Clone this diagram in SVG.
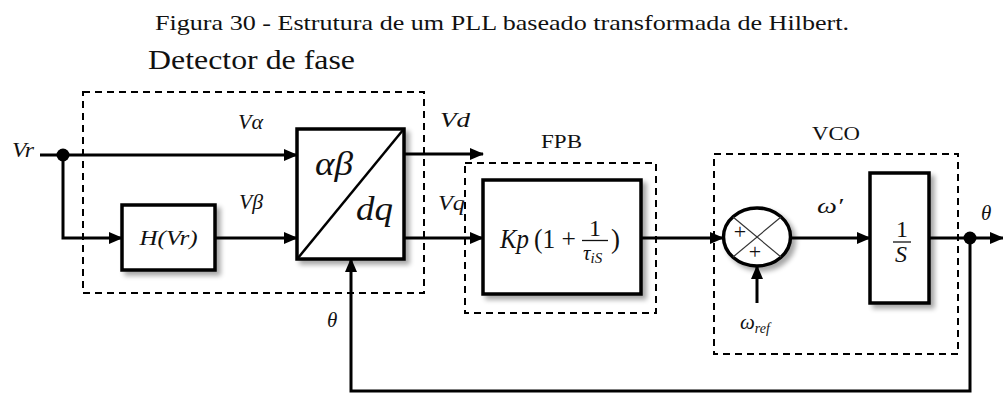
<svg xmlns="http://www.w3.org/2000/svg" width="1003" height="394" viewBox="0 0 1003 394">
<style>
text{font-family:'Liberation Serif','Times New Roman',serif;fill:#111}
.i{font-style:italic}
.box{fill:#fff;stroke:#000;stroke-width:3.5}
.dash{fill:none;stroke:#000;stroke-width:2;stroke-dasharray:7 5}
.ln{fill:none;stroke:#000;stroke-width:3}
.thin{fill:none;stroke:#333;stroke-width:1.2}
</style>
<defs>
<marker id="arr" markerUnits="userSpaceOnUse" markerWidth="14" markerHeight="12" refX="13" refY="6" orient="auto">
<path d="M0,0 L14,6 L0,12 Z" fill="#000"/>
</marker>
<filter id="sh" x="-10%" y="-10%" width="130%" height="130%">
<feGaussianBlur in="SourceAlpha" stdDeviation="2.5"/>
<feOffset dx="4" dy="4" result="b"/>
<feComponentTransfer><feFuncA type="linear" slope="0.35"/></feComponentTransfer>
<feMerge><feMergeNode/><feMergeNode in="SourceGraphic"/></feMerge>
</filter>
</defs>
<rect width="1003" height="394" fill="#fff"/>
<text font-family="Liberation Serif, serif" x="155" y="30" font-size="21" textLength="694" lengthAdjust="spacingAndGlyphs">Figura 30 - Estrutura de um PLL baseado transformada de Hilbert.</text>

<g id="detector">
<rect class="dash" x="83" y="92" width="341" height="201"/>
<text x="148" y="69" font-size="27" textLength="207" lengthAdjust="spacingAndGlyphs">Detector de fase</text>
</g>
<g id="fpb-group">
<rect class="dash" x="465" y="163" width="191" height="150"/>
<text x="541" y="148" font-size="19" textLength="41" lengthAdjust="spacingAndGlyphs">FPB</text>
</g>
<g id="vco-group">
<rect class="dash" x="714" y="154" width="244" height="200"/>
<text x="812" y="140" font-size="19" textLength="48" lengthAdjust="spacingAndGlyphs">VCO</text>
</g>

<g id="connectors">
<line class="ln" x1="40" y1="155" x2="297" y2="155" marker-end="url(#arr)"/>
<polyline class="ln" points="63,155 63,238 122,238" marker-end="url(#arr)"/>
<line class="ln" x1="215" y1="238" x2="297" y2="238" marker-end="url(#arr)"/>
<line class="ln" x1="404" y1="154" x2="483" y2="154" marker-end="url(#arr)"/>
<line class="ln" x1="404" y1="238" x2="483" y2="238" marker-end="url(#arr)"/>
<line class="ln" x1="641" y1="238" x2="723" y2="238" marker-end="url(#arr)"/>
<line class="ln" x1="791" y1="238" x2="870" y2="238" marker-end="url(#arr)"/>
<line class="ln" x1="757" y1="303" x2="757" y2="266" marker-end="url(#arr)"/>
<line class="ln" x1="929" y1="238" x2="1003" y2="238" marker-end="url(#arr)"/>
<polyline class="ln" points="970,238 970,391 351,391 351,259" marker-end="url(#arr)"/>
<circle cx="63" cy="155" r="6.5" fill="#000"/>
<circle cx="970" cy="238" r="6.5" fill="#000"/>
</g>

<g id="labels">
<text class="i" x="12" y="157" font-size="21" textLength="22" lengthAdjust="spacingAndGlyphs">Vr</text>
<text class="i" x="238" y="129" font-size="20" textLength="25" lengthAdjust="spacingAndGlyphs">Vα</text>
<text class="i" x="239" y="209" font-size="20" textLength="24" lengthAdjust="spacingAndGlyphs">Vβ</text>
<text class="i" x="440" y="127" font-size="20" textLength="30" lengthAdjust="spacingAndGlyphs">Vd</text>
<text class="i" x="438" y="210" font-size="20" textLength="27" lengthAdjust="spacingAndGlyphs">Vq</text>
<text class="i" x="327" y="327" font-size="21">θ</text>
<text class="i" x="981" y="220" font-size="21">θ</text>
<text class="i" x="817" y="213" font-size="21" textLength="26" lengthAdjust="spacingAndGlyphs">ω′</text>
<text class="i" x="740" y="329" font-size="21">ω<tspan font-size="14" dy="4">ref</tspan></text>
</g>

<g id="hilbert">
<rect class="box" x="122" y="205" width="93" height="65" filter="url(#sh)"/>
<text class="i" x="168.5" y="245" font-size="21" text-anchor="middle" textLength="58" lengthAdjust="spacingAndGlyphs">H(Vr)</text>
</g>

<g id="abdq">
<rect class="box" x="297" y="129" width="107" height="130" filter="url(#sh)"/>
<line x1="298" y1="258" x2="403" y2="130" stroke="#000" stroke-width="2.5"/>
<text class="i" x="315" y="175" font-size="34" textLength="38" lengthAdjust="spacingAndGlyphs">αβ</text>
<text class="i" x="356" y="220" font-size="34" textLength="37" lengthAdjust="spacingAndGlyphs">dq</text>
</g>

<g id="fpb">
<rect class="box" x="483" y="180" width="158" height="114" filter="url(#sh)"/>
<text class="i" x="500" y="248" font-size="27" textLength="29" lengthAdjust="spacingAndGlyphs">Kp</text>
<text x="534" y="248" font-size="27" textLength="42" lengthAdjust="spacingAndGlyphs">(1 +</text>
<text x="595" y="236" font-size="24" text-anchor="middle">1</text>
<line x1="582" y1="240.5" x2="608" y2="240.5" stroke="#111" stroke-width="1.3"/>
<text class="i" x="583" y="260" font-size="21">τ<tspan font-size="15" dy="3">iS</tspan></text>
<text x="611" y="248" font-size="27">)</text>
</g>

<g id="sum">
<ellipse cx="757" cy="237" rx="33.5" ry="29" fill="#fff" stroke="#000" stroke-width="3.5" filter="url(#sh)"/>
<line class="thin" x1="733" y1="217" x2="781" y2="257"/>
<line class="thin" x1="781" y1="217" x2="733" y2="257"/>
<text x="740" y="239" font-size="22" text-anchor="middle">+</text>
<text x="755" y="259" font-size="22" text-anchor="middle">+</text>
</g>

<g id="integrator">
<rect class="box" x="870" y="173" width="59" height="130" filter="url(#sh)"/>
<text x="902" y="237" font-size="24" text-anchor="middle">1</text>
<line x1="893" y1="242" x2="911" y2="242" stroke="#111" stroke-width="1.3"/>
<text class="i" x="901" y="262" font-size="24" text-anchor="middle">S</text>
</g>
</svg>
